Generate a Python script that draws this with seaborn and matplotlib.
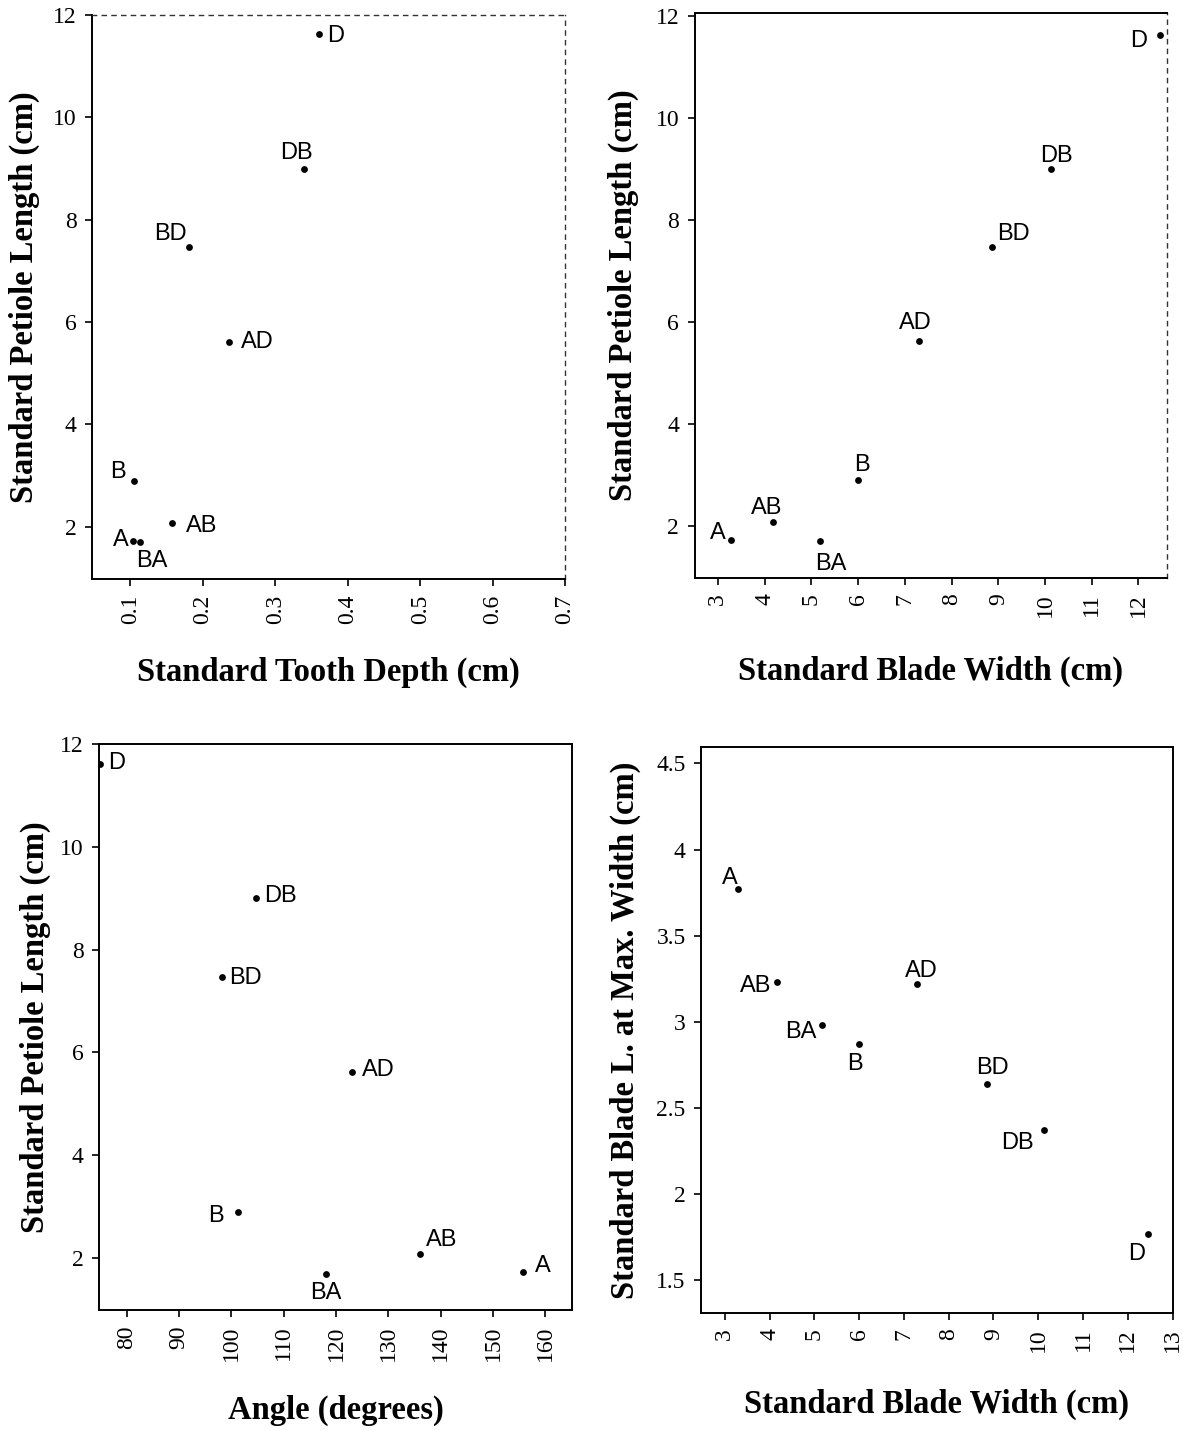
import matplotlib
matplotlib.use("Agg")
import matplotlib.pyplot as plt
import seaborn as sns
import pandas as pd

# ---------------- data ----------------
labels = ["A", "AB", "B", "BA", "AD", "BD", "DB", "D"]
petiole_length = [1.72, 2.08, 2.90, 1.70, 5.62, 7.47, 9.00, 11.62]
tooth_depth = [0.103, 0.157, 0.105, 0.113, 0.236, 0.181, 0.339, 0.360]
blade_width = [3.29, 4.17, 6.00, 5.18, 7.30, 8.86, 10.12, 12.45]
angle = [155.8, 136.1, 101.3, 118.1, 123.0, 98.3, 104.8, 74.9]
blade_len_max_w = [3.77, 3.23, 2.87, 2.98, 3.22, 2.64, 2.37, 1.77]

xt1 = [0.1, 0.2, 0.3, 0.4, 0.5, 0.6, 0.7]
xt2 = [3, 4, 5, 6, 7, 8, 9, 10, 11, 12]
xt3 = [80, 90, 100, 110, 120, 130, 140, 150, 160]
xt4 = [3, 4, 5, 6, 7, 8, 9, 10, 11, 12, 13]
yt_pet = [2, 4, 6, 8, 10, 12]
yt4 = [1.5, 2, 2.5, 3, 3.5, 4, 4.5]

df = pd.DataFrame({"label": labels, "petiole": petiole_length, "tooth": tooth_depth,
                   "width": blade_width, "angle": angle, "bladelen": blade_len_max_w})

sns.set_theme(style="ticks")
plt.rcParams["font.family"] = ["Liberation Serif", "DejaVu Serif"]
plt.rcParams["text.color"] = "black"
plt.rcParams["axes.labelcolor"] = "black"

fig = plt.figure(figsize=(11.83, 14.30), dpi=100)
W, H = 1183, 1430

def rect(l, r, t, b):
    return [l / W, 1 - b / H, (r - l) / W, (b - t) / H]

# label offsets in pixels (dx, dy, ha)
off1 = {"D": (8, -2, "left"), "DB": (-7, 16, "center"), "BD": (-2, 13, "right"),
        "AD": (12, 0, "left"), "B": (-8, 9, "right"), "AB": (14, -3, "left"),
        "A": (-4, 1, "right"), "BA": (12, -19, "center")}
off2 = {"A": (-6, 7, "right"), "AB": (-6, 14, "center"), "BA": (11, -23, "center"),
        "B": (4, 15, "center"), "AD": (-4, 18, "center"), "BD": (5, 13, "left"),
        "DB": (6, 13, "center"), "D": (-21, -6, "center")}
off3 = {"D": (8, 1, "left"), "DB": (8, 2, "left"), "BD": (7, -1, "left"),
        "AD": (10, 2, "left"), "B": (-14, -4, "right"), "AB": (6, 14, "left"),
        "BA": (0, -19, "center"), "A": (12, 6, "left")}
off4 = {"A": (-8, 11, "center"), "AB": (-6, -4, "right"), "BA": (-6, -7, "right"),
        "B": (-4, -20, "center"), "AD": (4, 13, "center"), "BD": (5, 16, "center"),
        "DB": (-10, -13, "right"), "D": (-11, -20, "center")}

panels = [
    dict(r=rect(92, 565, 15, 579), x="tooth", y="petiole", xlim=(0.047, 0.7), ylim=(0.98, 12.0),
         xt=xt1, yt=yt_pet, xl="Standard Tooth Depth (cm)", yl="Standard Petiole Length (cm)",
         xlc=-0.165, ylc=-0.142, off=off1, dashed=("top", "right")),
    dict(r=rect(694.5, 1167, 13, 578), x="width", y="petiole", xlim=(2.5, 12.61), ylim=(0.985, 12.05),
         xt=xt2, yt=yt_pet, xl="Standard Blade Width (cm)", yl="Standard Petiole Length (cm)",
         xlc=-0.166, ylc=-0.151, off=off2, dashed=("right",)),
    dict(r=rect(99, 572, 744, 1310), x="angle", y="petiole", xlim=(74.7, 165.1), ylim=(0.99, 12.0),
         xt=xt3, yt=yt_pet, xl="Angle (degrees)", yl="Standard Petiole Length (cm)",
         xlc=-0.177, ylc=-0.135, off=off3, dashed=()),
    dict(r=rect(701, 1172.5, 747, 1313), x="width", y="bladelen", xlim=(2.47, 13.0), ylim=(1.31, 4.595),
         xt=xt4, yt=yt4, xl="Standard Blade Width (cm)", yl="Standard Blade L. at Max. Width (cm)",
         xlc=-0.161, ylc=-0.161, off=off4, dashed=()),
]

px = 0.72  # pixels -> points at 100 dpi

for p in panels:
    ax = fig.add_axes(p["r"])
    sns.scatterplot(data=df, x=p["x"], y=p["y"], ax=ax, color="black", s=24,
                    edgecolor="black", linewidth=0, legend=False, zorder=3)
    ax.set_xlim(*p["xlim"])
    ax.set_ylim(*p["ylim"])
    ax.set_xticks(p["xt"])
    ax.set_yticks(p["yt"])
    ax.set_xticklabels([f"{v:g}" for v in p["xt"]], rotation=90, fontsize=17)
    ax.set_yticklabels([f"{v:g}" for v in p["yt"]], fontsize=17)
    ax.tick_params(axis="both", direction="out", length=5, width=1.2, color="black",
                   labelcolor="black", pad=6)
    ax.set_xlabel(p["xl"], fontsize=23.5, fontweight="bold", va="center", ha="center",
                  color="black")
    ax.set_ylabel(p["yl"], fontsize=23.5, fontweight="bold", va="center", ha="center",
                  color="black")
    ax.xaxis.set_label_coords(0.5, p["xlc"])
    ax.yaxis.set_label_coords(p["ylc"], 0.5)
    for s in ax.spines.values():
        s.set_color("black")
        s.set_linewidth(1.4)
    for side in p["dashed"]:
        ax.spines[side].set_linestyle((0, (3, 4)))
        ax.spines[side].set_linewidth(1.0)
        ax.spines[side].set_color("#333333")
    ax.set_facecolor("white")
    for lab, xv, yv in zip(df["label"], df[p["x"]], df[p["y"]]):
        dx, dy, ha = p["off"][lab]
        ax.annotate(lab, (xv, yv), xytext=(dx * px, dy * px), textcoords="offset points",
                    ha=ha, va="center", fontsize=17,
                    family=["Liberation Sans", "DejaVu Sans"], color="black", zorder=4)

fig.savefig("out.png", dpi=100, facecolor="white")
